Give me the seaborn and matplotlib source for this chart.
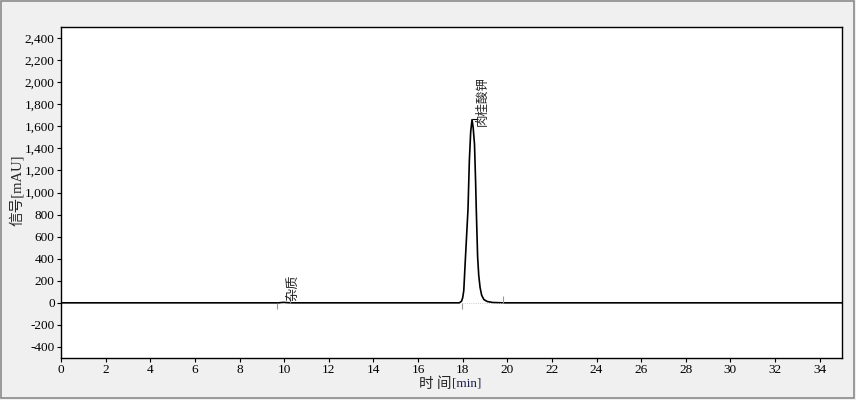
import numpy as np
import pandas as pd
import seaborn as sns
import matplotlib.pyplot as plt
from matplotlib.patches import Rectangle

# chromatogram trace (min, mAU)
trace_time = [0.0, 9.60, 9.70, 9.80, 9.90, 10.00, 10.10, 10.30,
              17.85, 17.95, 18.00, 18.05, 18.12, 18.18, 18.24, 18.30, 18.36, 18.42,
              18.47, 18.53, 18.58, 18.61, 18.67, 18.72, 18.78, 18.85, 18.95, 19.10,
              19.35, 19.80, 35.0]
trace_signal = [0, 0, -1, 1, 3, 4, 2, 0,
                0, 15, 45, 110, 390, 620, 850, 1290, 1550, 1660,
                1590, 1440, 1100, 850, 420, 250, 140, 70, 30, 12,
                3, 0, 0]

peak_names = ["杂质", "肉桂酸钾"]
peak_times = [10.0, 18.42]
peak_heights = [4, 1660]

# integration marks (start/end of each peak)
mark_times = [9.67, 10.25, 17.95, 19.82]

y_ticks = [-400, -200, 0, 200, 400, 600, 800, 1000, 1200, 1400, 1600, 1800, 2000, 2200, 2400]
x_ticks = list(range(0, 36, 2))

sns.set_style("ticks")
plt.rcParams['font.family'] = ['Liberation Serif', 'Noto Sans CJK SC']
plt.rcParams['axes.unicode_minus'] = False

df = pd.DataFrame({"time": trace_time, "signal": trace_signal})

fig = plt.figure(figsize=(8.56, 4.0), dpi=100, facecolor="#f0f0f0")
ax = fig.add_axes([61/856, 1-358/400, (842-61)/856, (358-27)/400])
ax.set_facecolor("white")

sns.lineplot(data=df, x="time", y="signal", ax=ax, color="black", linewidth=1.2)

for i, t in enumerate(mark_times):
    if i % 2 == 0:
        ax.vlines(t, -60, 0, color="#999999", linewidth=0.8)
    else:
        ax.vlines(t, 0, 60, color="#999999", linewidth=0.8)
ax.hlines(0, mark_times[2], mark_times[3], color="#bbbbbb", linewidth=0.6, linestyles=":")

# peak labels
ax.text(peak_times[0] + 0.1, peak_heights[0] + 10, peak_names[0], rotation=90,
        ha="left", va="bottom", fontsize=9.5, family=['Noto Sans CJK SC'])
ax.hlines(peak_heights[1] + 10, peak_times[1], peak_times[1] + 0.25, color="black", linewidth=0.8)
ax.text(peak_times[1] + 0.18, peak_heights[1] - 60, peak_names[1], rotation=90,
        ha="left", va="bottom", fontsize=9, family=['Noto Sans CJK SC'])

ax.set_xlim(0, 35)
ax.set_ylim(-500, 2500)
ax.set_xticks(x_ticks)
ax.set_yticks(y_ticks)
ax.set_yticklabels([f"{v:,}" for v in y_ticks])
ax.tick_params(axis="both", labelsize=9.5, length=3, width=0.8, direction="out",
               colors="black", pad=1.5)
for s in ax.spines.values():
    s.set_linewidth(1.0)
    s.set_color("black")

ax.set_xlabel("")
ax.set_ylabel("")
# axis titles: CJK part plus a smaller unit part, as in the reference
fig.text(451/856, 1-384/400, "时 间", ha="right", va="center", fontsize=10.5,
         family=['Noto Sans CJK SC'])
fig.text(452/856, 1-384/400, "[min]", ha="left", va="center", fontsize=9.5, color="#1f1f4d")
fig.text(17/856, 1-190/400, "信号[mAU]", ha="center", va="center", rotation=90, fontsize=10.5)

# window frame
fig.patches.append(Rectangle((0.001, 0.004), 0.997, 0.994, transform=fig.transFigure,
                             fill=False, edgecolor="#8a8a8a", linewidth=1.2))

fig.savefig("out.png", dpi=100, facecolor=fig.get_facecolor())
